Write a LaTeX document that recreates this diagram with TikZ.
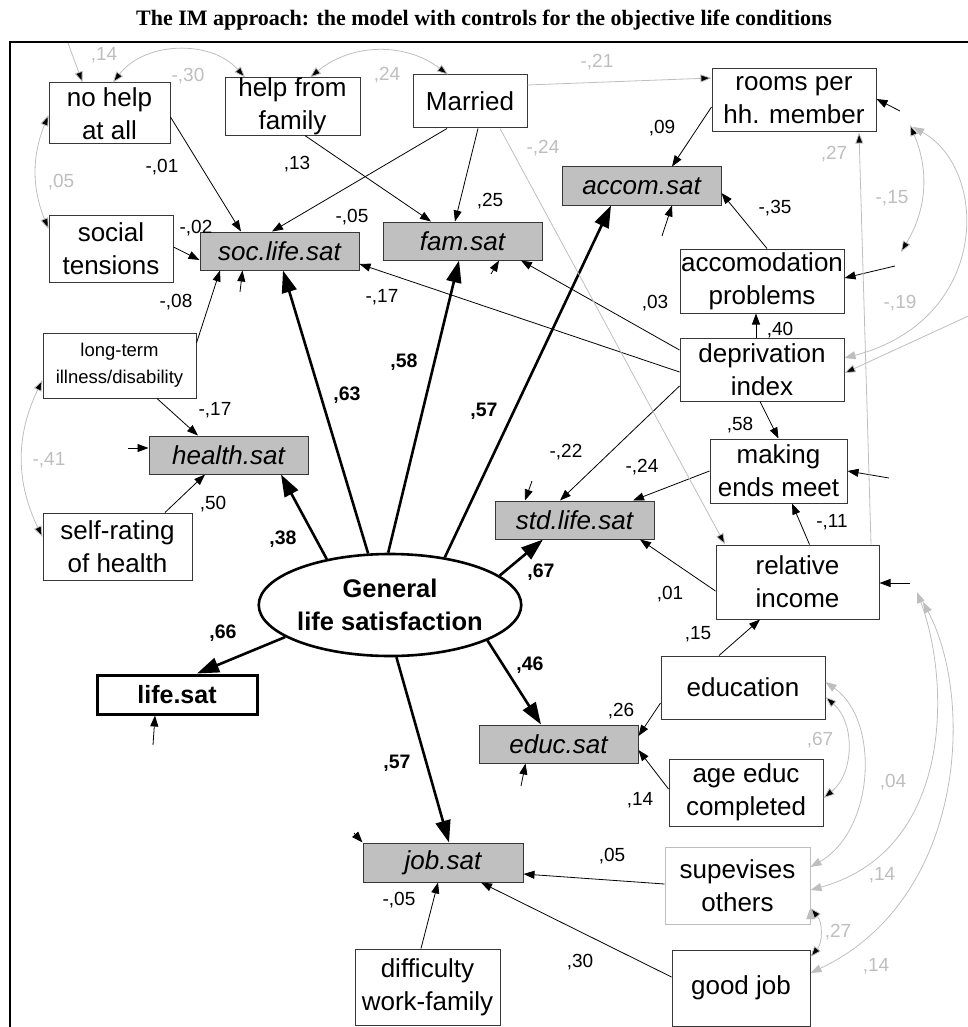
\documentclass[tikz,border=0pt]{standalone}
\usepackage{fontspec}
\setmainfont{Liberation Sans}
\newfontfamily\titlefont{Liberation Serif}
\usetikzlibrary{arrows.meta,shapes.geometric}
\definecolor{satgray}{RGB}{192,192,192}
\definecolor{covgray}{RGB}{190,190,190}
\definecolor{boxline}{RGB}{55,55,55}
\tikzstyle{obsbox}=[draw=boxline, line width=1pt, align=center, inner sep=0pt, font=\fontsize{26}{33}\selectfont]
\tikzstyle{satbox}=[obsbox, fill=satgray, font=\fontsize{26}{33}\selectfont\itshape]
\tikzstyle{coef}=[inner sep=0pt, font=\fontsize{19}{20}\selectfont]
\tikzstyle{bcoef}=[inner sep=0pt, font=\fontsize{19.5}{20}\selectfont\bfseries]
\tikzstyle{gcoef}=[coef, text=covgray]
\tikzstyle{reg}=[-{Triangle[length=11pt,width=8pt]}, line width=0.8pt]
\tikzstyle{load}=[-{Triangle[length=22pt,width=15pt]}, line width=2.6pt]
\tikzstyle{gpath}=[-{Triangle[length=11pt,width=8pt]}, draw=covgray, line width=0.8pt]
\tikzstyle{cov}=[{Triangle[length=11pt,width=8pt]}-{Triangle[length=11pt,width=8pt]}, draw=covgray, line width=0.8pt]
\newcommand{\obsbox}{\node[obsbox]}
\newcommand{\satbox}{\node[satbox]}

\begin{document}
\begin{tikzpicture}[x=1pt,y=-1pt]
\useasboundingbox (0,0) rectangle (967,1027);
\node[font={\titlefont\bfseries\fontsize{22}{24}\selectfont}, anchor=base] (title) at (484,26)
  {The IM approach: the model with controls for the objective life conditions};
\draw[line width=2pt] (10,1030) -- (10,42) -- (970,42);

% observed variables
\obsbox (nohelp) at (109.5,113.5) [minimum width=121pt, minimum height=61pt] {no help\\at all};
\obsbox (helpfam) at (292.5,106.5) [minimum width=135pt, minimum height=57pt] {help from\\family};
\obsbox (married) at (470,101.5) [minimum width=114pt, minimum height=53pt] {Married};
\obsbox (rooms) at (794,100.5) [minimum width=164pt, minimum height=63pt] {rooms per\\hh. member};
\obsbox (socials) at (111,248.5) [minimum width=124pt, minimum height=67pt] {social\\tensions};
\obsbox (accprob) at (762,281) [minimum width=164pt, minimum height=64pt] {accomodation\\problems};
\obsbox (deprivation) at (762,369.5) [minimum width=164pt, minimum height=63pt] {deprivation\\index};
\obsbox (longterm) at (119.5,365.5) [minimum width=153pt, minimum height=65pt, font=\fontsize{18.5}{27}\selectfont] {long-term\\illness/disability};
\obsbox (selfrating) at (117.5,546.5) [minimum width=149pt, minimum height=67pt] {self-rating\\of health};
\obsbox (making) at (778.5,471) [minimum width=137pt, minimum height=64pt] {making\\ends meet};
\obsbox (relincome) at (797.5,582) [minimum width=163pt, minimum height=74pt] {relative\\income};
\obsbox (education) at (743,687.5) [minimum width=164pt, minimum height=63pt] {education};
\obsbox (ageeduc) at (746,792.5) [minimum width=154pt, minimum height=67pt] {age educ\\completed};
\obsbox (supervises) at (737.5,885.5) [minimum width=145pt, minimum height=77pt, draw=covgray] {supevises\\others};
\obsbox (goodjob) at (741,988) [minimum width=138pt, minimum height=76pt] {good job};
\obsbox (difficulty) at (427.5,987) [minimum width=145pt, minimum height=76pt] {difficulty\\work-family};

% satisfaction domains
\satbox (soclife) at (279.5,251) [minimum width=159pt, minimum height=38pt] {soc.life.sat};
\satbox (famsat) at (462.5,241) [minimum width=159pt, minimum height=38pt] {fam.sat};
\satbox (accom) at (641.5,186) [minimum width=159pt, minimum height=38pt] {accom.sat};
\satbox (healthsat) at (228.5,455) [minimum width=159pt, minimum height=38pt] {health.sat};
\satbox (stdlife) at (574.5,520) [minimum width=159pt, minimum height=38pt] {std.life.sat};
\satbox (educsat) at (558.5,744) [minimum width=159pt, minimum height=38pt] {educ.sat};
\satbox (jobsat) at (443,862.5) [minimum width=160pt, minimum height=39pt] {job.sat};
\node[draw, line width=3pt, minimum width=160pt, minimum height=39pt, inner sep=0pt,
  font=\fontsize{25}{33}\selectfont\bfseries] (lifesat) at (177,694.5) {life.sat};
\node[ellipse, draw, line width=2.6pt, minimum width=255pt, minimum height=102pt, inner sep=0pt,
  align=center, font=\fontsize{25.5}{33}\selectfont\bfseries] (gls) at (390,605) {General\\life satisfaction};

% loose ends
\coordinate (esoc) at (240,292);
\coordinate (efam) at (491,274);
\coordinate (eacc) at (662,236);
\coordinate (estd) at (532,481);
\coordinate (ehea) at (128,448);
\coordinate (eedu) at (521,786);
\coordinate (ejob) at (354,833);
\coordinate (elif) at (153,745);
\coordinate (eroo) at (900,111);
\coordinate (eapr) at (895,266);
\coordinate (emak) at (889,478);
\coordinate (einc) at (910,583);
\coordinate (ctop) at (68,43);
\coordinate (cright) at (975,313);
\coordinate (croo) at (910,125);
\coordinate (capr) at (901,252);
\coordinate (croo2) at (913,127);
\coordinate (cinc1) at (917,592);
\coordinate (cinc2) at (923,602);

% loadings
\path[load]
  (gls.113) edge ([xshift=3.5pt]soclife.south)
  (gls.92) edge ([xshift=-3.5pt]famsat.south)
  (gls.41) edge ([xshift=-30.5pt]accom.south)
  (gls.144) edge ([xshift=52.5pt]healthsat.south)
  (gls.15) edge ([xshift=-31.5pt]stdlife.south)
  (gls.340) edge ([xshift=-17.5pt]educsat.north)
  (gls.277) edge ([xshift=6pt]jobsat.north)
  (gls.197) edge ([xshift=20pt]lifesat.north);

% regressions
\path[reg]
  ([yshift=-3.5pt]nohelp.east) edge ([xshift=-38.5pt]soclife.north)
  ([xshift=-23pt]married.south) edge ([xshift=-7.5pt]soclife.north)
  ([xshift=12.5pt]helpfam.south) edge ([xshift=-31.5pt]famsat.north)
  ([xshift=8pt]married.south) edge ([xshift=-7.5pt]famsat.north)
  ([yshift=1.5pt]socials.east) edge ([yshift=-9pt]soclife.west)
  ([yshift=22.5pt]longterm.east) edge ([xshift=-59.5pt]soclife.south)
  ([yshift=-2.5pt]deprivation.west) edge ([yshift=-13pt]soclife.east)
  ([yshift=19.5pt]deprivation.west) edge ([xshift=58.5pt]famsat.south)
  ([yshift=-6.5pt]rooms.west) edge ([xshift=30.5pt]accom.north)
  ([xshift=5pt]accprob.north) edge ([yshift=-7pt]accom.east)
  ([xshift=-6pt]deprivation.north) edge ([xshift=-6pt]accprob.south)
  ([xshift=-2pt]deprivation.south) edge (making.north)
  ([yshift=-16.5pt]deprivation.west) edge ([xshift=-14.5pt]stdlife.north)
  (making.west) edge ([xshift=58.5pt]stdlife.north)
  ([xshift=12pt]relincome.north) edge ([xshift=13.5pt]making.south)
  ([yshift=-9pt]relincome.west) edge ([xshift=65.5pt]stdlife.south)
  ([xshift=37.5pt]longterm.south) edge ([xshift=-30.5pt]healthsat.north)
  ([xshift=47.5pt]selfrating.north) edge ([xshift=-23.5pt]healthsat.south)
  ([xshift=-24pt]education.north) edge ([xshift=-37.5pt]relincome.south)
  ([yshift=-15.5pt]education.west) edge ([yshift=8pt]educsat.east)
  ([yshift=3.5pt]ageeduc.west) edge ([yshift=-6pt]educsat.east)
  ([yshift=1.5pt]supervises.west) edge ([yshift=-11.5pt]jobsat.east)
  ([yshift=11pt]goodjob.west) edge ([xshift=38pt]jobsat.south)
  ([xshift=-6.5pt]difficulty.north) edge ([xshift=-5pt]jobsat.south);

% residuals
\path[reg]
  (esoc) edge ([xshift=-37pt]soclife.south)
  (efam) edge ([xshift=36.5pt]famsat.south)
  (eacc) edge ([xshift=30.5pt]accom.south)
  (estd) edge ([xshift=-49.5pt]stdlife.north)
  (ehea) edge ([yshift=7pt]healthsat.west)
  (eedu) edge ([xshift=-33pt]educsat.south)
  (ejob) edge (jobsat.north west)
  (elif) edge ([xshift=-22pt]lifesat.south)
  (eroo) edge ([yshift=1.5pt]rooms.east)
  (eapr) edge ([yshift=3pt]accprob.east)
  (emak) edge (making.east)
  (einc) edge ([yshift=-1pt]relincome.east);

% grey paths
\path[gpath]
  ([yshift=16.5pt]married.east) edge ([yshift=22.5pt]rooms.west)
  ([xshift=30pt]married.south) edge ([xshift=-72.5pt]relincome.north)
  ([xshift=73.5pt]relincome.north) edge ([xshift=65pt]rooms.south)
  (ctop) edge ([xshift=-27pt]nohelp.north)
  (cright) edge ([yshift=-3.5pt]deprivation.east);

% covariances
\path[cov]
  ([xshift=3.5pt]nohelp.north) edge[bend left=50] ([xshift=-47.5pt]helpfam.north)
  ([xshift=17.5pt]helpfam.north) edge[bend left=38] ([xshift=-22pt]married.north)
  ([yshift=-1.5pt]nohelp.west) edge[bend right=22] ([yshift=19.5pt]socials.west)
  ([yshift=-14.5pt]longterm.west) edge[bend right=26] ([yshift=9.5pt]selfrating.west)
  (croo) edge[bend left=27] (capr)
  ([yshift=-9.5pt]education.east) edge[bend left=50] ([yshift=-5.5pt]ageeduc.east)
  ([yshift=-22.5pt]supervises.east) edge[bend left=40] ([yshift=31pt]goodjob.east);
\draw[cov] (croo2) .. controls (990,170) and (990,320) .. ([yshift=11.5pt]deprivation.east);
\draw[cov] ([yshift=5.5pt]education.east) .. controls (880,720) and (875,830) .. ([yshift=18.5pt]supervises.east);
\draw[cov] (cinc1) .. controls (950,680) and (955,850) .. ([yshift=-4.5pt]supervises.east);
\draw[cov] (cinc2) .. controls (975,700) and (965,900) .. ([yshift=15pt]goodjob.east);

% coefficients
\node[coef] (k1) at (162,167) {-,01};
\node[coef] (k2) at (297,164) {,13};
\node[coef] (k3) at (196,228) {-,02};
\node[coef] (k4) at (352,217) {-,05};
\node[coef] (k5) at (490,201) {,25};
\node[coef] (k6) at (662,128) {,09};
\node[coef] (k7) at (775,208) {-,35};
\node[coef] (k8) at (176,302) {-,08};
\node[coef] (k9) at (382,297) {-,17};
\node[coef] (k10) at (655,303) {,03};
\node[coef] (k11) at (780,330) {,40};
\node[coef] (k12) at (215,410) {-,17};
\node[coef] (k13) at (740,425) {,58};
\node[coef] (k14) at (566,452) {-,22};
\node[coef] (k15) at (642,467) {-,24};
\node[coef] (k16) at (213,504) {,50};
\node[coef] (k17) at (832,522) {-,11};
\node[coef] (k18) at (670,594) {,01};
\node[coef] (k19) at (698,634) {,15};
\node[coef] (k20) at (621,711) {,26};
\node[coef] (k21) at (640,800) {,14};
\node[coef] (k22) at (612,856) {,05};
\node[coef] (k23) at (399,900) {-,05};
\node[coef] (k24) at (580,962) {,30};

\node[bcoef] (b1) at (347,395) {,63};
\node[bcoef] (b2) at (404,362) {,58};
\node[bcoef] (b3) at (484,411) {,57};
\node[bcoef] (b4) at (283,539) {,38};
\node[bcoef] (b5) at (541,572) {,67};
\node[bcoef] (b6) at (530,665) {,46};
\node[bcoef] (b7) at (397,763) {,57};
\node[bcoef] (b8) at (223,633) {,66};

\node[gcoef] (g1) at (104,55) {,14};
\node[gcoef] (g2) at (188,76) {-,30};
\node[gcoef] (g3) at (387,75) {,24};
\node[gcoef] (g4) at (61,182) {,05};
\node[gcoef] (g5) at (597,62) {-,21};
\node[gcoef] (g6) at (543,148) {-,24};
\node[gcoef] (g7) at (834,154) {,27};
\node[gcoef] (g8) at (892,198) {-,15};
\node[gcoef] (g9) at (900,303) {-,19};
\node[gcoef] (g10) at (49,460) {-,41};
\node[gcoef] (g11) at (820,740) {,67};
\node[gcoef] (g12) at (893,782) {,04};
\node[gcoef] (g13) at (882,875) {,14};
\node[gcoef] (g14) at (838,932) {,27};
\node[gcoef] (g15) at (876,966) {,14};
\end{tikzpicture}
\end{document}
